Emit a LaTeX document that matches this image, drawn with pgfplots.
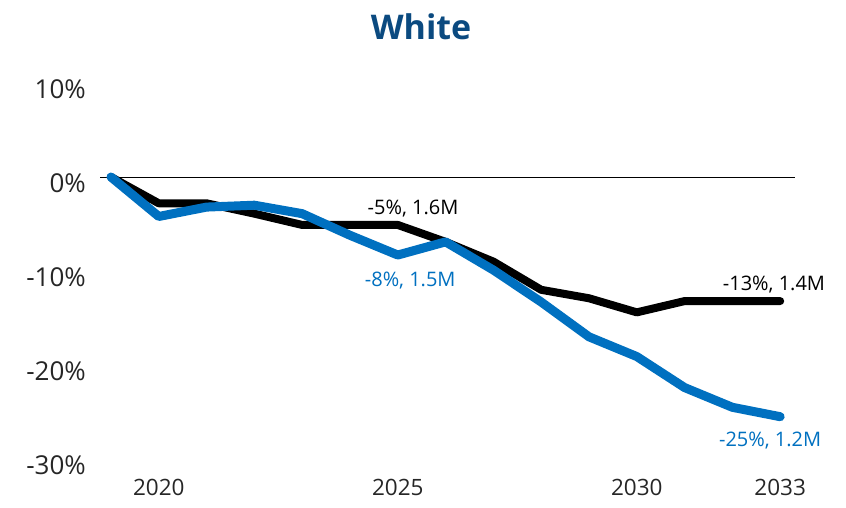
\documentclass[border=0pt]{standalone}
\usepackage{fontspec}
\setmainfont{Open Sans}
\usepackage{pgfplots}
\pgfplotsset{compat=1.18}

\definecolor{titleblue}{HTML}{0B4A80}
\definecolor{lineblue}{HTML}{0070C0}

\begin{document}
\begin{tikzpicture}
  % fixed page size, same as the reference image
  \path[use as bounding box] (0,0) rectangle (846pt,507pt);

  \begin{axis}[
      at={(100pt,48pt)}, anchor=south west,
      scale only axis,
      width=695pt, height=376pt,
      xmin=2018.77, xmax=2033.31,
      ymin=-30, ymax=10,
      axis lines=left,
      axis line style={draw=none},
      clip=false,
      xtick={2020,2025,2030,2033},
      xticklabels={2020,2025,2030,2033},
      ytick={-30,-20,-10,0,10},
      yticklabels={-30\%,-20\%,-10\%,0\%,10\%},
      major tick length=0pt,
      tick style={draw=none},
      xticklabel style={font=\fontsize{22.5}{26}\selectfont, inner sep=0pt,
                        anchor=base, yshift=-36pt, text=black!85},
      yticklabel style={font=\fontsize{26}{30}\selectfont, inner sep=0pt,
                        anchor=base east, xshift=-14pt, yshift=-15pt, text=black!85},
      /pgf/number format/assume math mode=true,
    ]

    % zero line
    \addplot[black, line width=0.9pt] coordinates {(2018.77,0) (2033.31,0)};

    % black series
    \addplot[black, line width=8pt, line cap=round, line join=round] coordinates {
      (2019,0) (2020,-2.8) (2021,-2.8) (2022,-3.9) (2023,-5.1) (2024,-5.1)
      (2025,-5.1) (2026,-6.9) (2027,-9.0) (2028,-12.0) (2029,-12.9)
      (2030,-14.4) (2031,-13.2) (2032,-13.2) (2033,-13.2)
    };

    % blue series
    \addplot[lineblue, line width=9pt, line cap=round, line join=round] coordinates {
      (2019,0) (2020,-4.2) (2021,-3.2) (2022,-3.0) (2023,-3.9) (2024,-6.2)
      (2025,-8.3) (2026,-6.9) (2027,-9.9) (2028,-13.3) (2029,-17.0)
      (2030,-19.1) (2031,-22.4) (2032,-24.5) (2033,-25.5)
    };

    % labels
    \node[anchor=base, font=\fontsize{20}{24}\selectfont, text=black]
      at (axis cs:2025.32,-4.04) {-5\%, 1.6M};
    \node[anchor=base, font=\fontsize{20}{24}\selectfont, text=lineblue]
      at (axis cs:2025.26,-11.7) {-8\%, 1.5M};
    \node[anchor=base, font=\fontsize{20}{24}\selectfont, text=black]
      at (axis cs:2032.87,-12.1) {-13\%, 1.4M};
    \node[anchor=base, font=\fontsize{20}{24}\selectfont, text=lineblue]
      at (axis cs:2032.79,-28.7) {-25\%, 1.2M};
  \end{axis}

  % title
  \node[anchor=base, font=\fontsize{34}{40}\selectfont\bfseries, text=titleblue]
    at (421pt,467pt) {White};
\end{tikzpicture}
\end{document}
